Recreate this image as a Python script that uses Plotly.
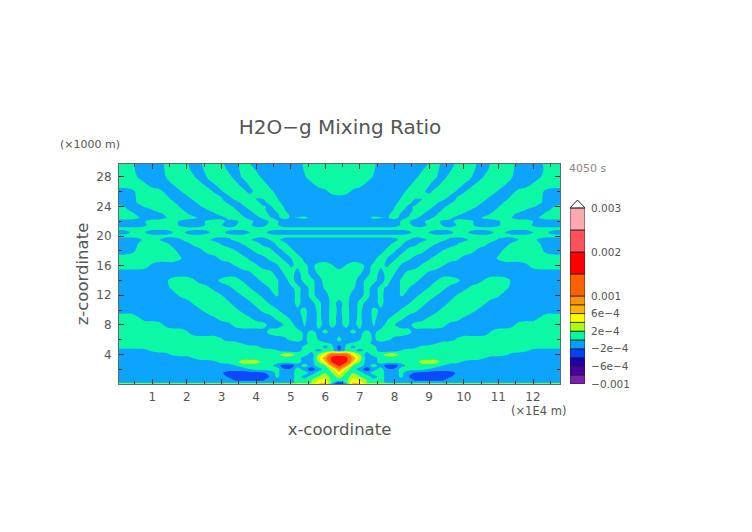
import numpy as np
import plotly.graph_objects as go

# x positions (x1E4 m) of the left half, the field is mirrored about x = 6.4
x_half = [0.0, 0.2, 0.4, 0.6, 0.8, 1.0, 1.2, 1.4, 1.6, 1.8, 2.0,
          2.2, 2.4, 2.6, 2.8, 3.0, 3.2, 3.4, 3.6, 3.8, 4.0, 4.2,
          4.4, 4.6, 4.8, 5.0, 5.2, 5.4, 5.6, 5.8, 6.0, 6.2, 6.4]

# z rows (x1000 m), bottom to top
z_rows = [0, 0.2, 0.5, 1, 1.5, 2, 2.5, 3, 3.5, 4, 4.5, 5, 5.5, 6, 7, 8, 9, 10,
          11, 12, 13, 14, 15, 16, 17, 18, 19, 19.5, 20, 20.5, 21, 21.5, 22,
          22.5, 23, 23.5, 24, 24.5, 25, 26, 27, 28, 29, 30]

# mixing ratio, in units of 1e-4, same order as z_rows
ratio_half = [
    [4,4,4,4,4,4,4,4,4,4,4, 4,4,4,4,4,4,4,4,4,4,4, 4,4,4,4,4,4,4,6,7,-1,-4],
    [-1,-1,-1,-1,-1,-1,-1,-1,-1,-1,-1, -1,-1,-1,-1,-1,-1,-1,-1,-1,-1,-1, -1,-1,-1,-1,1,1,2,5,6,1,-4],
    [-1,-1,-1,-1,-1,-1,-1,-1,-1,-1,-1, -1,-1,-1,-1,-1,-1,-2.2,-2.2,-2.2,-2.2,-2.2, -1,-1,-1,-1,1,1,2,4,5,1,1],
    [-1,-1,-1,-1,-1,-1,-1,-1,-1,-1,-1, -1,-1,-1,-1,-1.25,-2.25,-3,-3,-3,-3,-3, -1.9,.5,-1,-1,1,-1,1,2,3,1,3],
    [-1,-1,-1,-1,-1,-1,-1,-1,-1,-1,-1, -1,-1,-1,-1,-1.75,-2.75,-3,-3,-3,-3,-2.3, -1.3,.5,-1,-1,1,1,-1,1,2,2,5],
    [-1,-1,-1,-1,-1,-1,-1,-1,-1,-1,-1, -1,-1,-1,-1,-1,-1,-1,-1,-.1,.9,1, 1,1,-1.8,-1.8,1,-1,-3,-1,1,3,9],
    [-1,-1,-1,-1,-1,-1,-1,-1,-1,-1,-1, -1,-1,-1,-1,-1,-.95,.05,1,1,1,1, .8,-1,-3,-3,-1,1,-1,1,2,9,16],
    [-1,-1,-1,-1,-1,-1,-1,-1,-1,-1,-1, -1,-1,-1,-.3,.7,1,1,3,3,3,1, 1,1,1,1,1,-1,-1,2,6,16,19],
    [-1,-1,-1,-1,-1,-1,-1,-1,-1,-1,-.95, .05,1,1,1,1,1,1,1,1,1,1, 1,1,1,1,1,-1,-1,3,8,17,19],
    [-1,-1,-1,-1,-1,-1,-1,-.55,.45,1,1, 1,1,1,1,1,1,1,1,1,1,1, 1,1,3,3,1,1,-1,2,5,12,12],
    [-1,-1,-1,-1,-.7,.3,1,1,1,1,1, 1,1,1,1,1,1,1,1,1,1,1, 1,.2,-.8,-1,-.5,.5,.5,-.5,.5,.7,-2],
    [1,1,1,1,1,1,1,1,1,1,1, 1,1,1,1,1,1,1,1,1,.55,-.45, -1,-1,-1,-1,-1,.5,.8,.5,-.3,.5,-3],
    [1,1,1,1,1,1,1,1,1,1,1, 1,1,1,1,1,1,.9,-.1,-1,-1,-1, -1,-1,-1,-1,-.5,-.5,.5,.8,.3,-.3,-.5],
    [1,1,1,1,1,1,1,1,1,1,1, 1,1,1,1,.25,-.75,-1,-1,-1,-1,-1, -1,-1,-.65,.35,.6,-.3,.7,-.05,-1,-.65,.35],
    [1,1,1,1,1,1,1,1,1,1,.2, -.8,-1,-1,-1,-1,-1,-1,-1,-1,-1,-.55, .45,1,1,1,.6,-.3,.3,-.25,.2,-.3,-.5],
    [1,1,1,1,1,1,.6,-.4,-1,-1,-1, -1,-1,-1,-1,-1,-.5,.5,1,1,1,.55, -.45,-.95,.05,.65,-.8,.1,-.8,.3,-.3,.2,-.2],
    [1,1,1,.05,-1,-1,-1,-1,-1,-1,-1, -1,-1,-.95,-.05,.95,1,1,1,.1,-.9,-1, -.5,.5,.65,-.35,-.5,.3,-.7,.2,-.3,.25,-.2],
    [-1,-1,-1,-1,-1,-1,-1,-1,-1,-1,-1, -1,-.1,.9,1,1,1,.45,-.55,-1,-.55,.45, 1,.2,-.8,-1,-.2,.3,-.7,.3,-.5,.4,-.2],
    [-1,-1,-1,-1,-1,-1,-1,-1,-1,-1,-.7, .3,1,1,1,1,.25,-.75,-1,-.35,.65,.75, -.25,-1,-1,-.6,.4,-.6,-.2,.3,-.6,.4,-.3],
    [-1,-1,-1,-1,-1,-1,-1,-1,-.75,.25,1, 1,1,1,1,.05,-1,-.9,.1,1,.55,-.45, -.5,.2,-.8,-.65,.4,-.6,.4,-.4,-.4,.55,.5],
    [-1,-1,-1,-1,-1,-1,-1,-.55,.45,1,1, 1,1,.35,-.65,-1,-.5,.5,1,.1,-.9,-.9, .1,.2,-.8,-.3,.4,-.6,.5,-.6,.2,1,1],
    [-1,-1,-1,-1,-1,-1,-1,-.3,.7,1,1, .2,-.8,-1,-.55,.45,1,.9,-.1,-1,-.55,.45, 1,.2,-.8,.6,-.6,.4,.3,-.5,.5,1,1],
    [-1,-1,-1,-1,-1,-1,-1,-1,-1,-1,-1, -1,-1,-1,-1,-1,-1,-1,-1,-.35,.65,1, .5,-.5,.05,.4,-.35,.55,-.45,.15,1,1,1],
    [1,1,1,1,.6,-.4,-1,-1,-1,-1,-1, -1,-1,-1,-1,-1,-1,.05,1,1,.3,-.7, -1,-.2,.8,-.1,.15,.3,-.4,.6,1,.15,-.85],
    [1,1,1,1,1,1,1,1,1,.25,-.75, -1,-1,-1,-.55,.45,1,1,.75,-.25,-1,-.55, .45,.7,-.3,-.05,.6,-.4,-1,-1,-1,-1,-1],
    [-1,-1,-.5,.5,1,1,1,1,.5,-.5,-1, -1,-.4,.6,1,1,1,.1,-.9,-.6,.4,1, .5,-.5,.05,.5,-.5,-1,-1,-1,-1,-1,-1],
    [-1,-1,-1,.05,1,1,1,.3,-.7,-1,-.45, .55,1,1,.8,-.2,-1,-.9,.1,1,.55,-.45, -.75,.25,.4,-.6,-1,-1,-1,-1,-1,-1,-1],
    [-1,-1,-1,-.45,.55,1,.1,-.9,-1,-.25,.75, 1,1,.35,-.65,-1,-.5,.5,1,.35,-.65,-1, .05,.45,-.55,-1,-1,-1,-1,-1,-1,-1,-1],
    [.6,.6,.6,.6,.6,.6,.6,.6,.6,.6,.6, .6,.6,.6,.6,.6,.6,.6,.6,.6,.6,.6, .6,.6,.6,.6,.6,.6,.6,.6,.6,.6,.6],
    [-1,-.8,.2,.95,-.05,-1,-1,-1,-.05,.7,-.3, -1,-1,-.35,.65,.5,-.5,-1,-1,-.1,.9,.55, -.45,-1,-1,-1,-1,-1,-1,-1,-1,-1,-1],
    [.6,.6,.6,.6,.6,.6,.6,.6,.6,.6,.6, .6,.6,.6,.6,.6,.6,.6,.6,.6,.6,.6, .6,.6,.6,.6,.6,.6,.6,.6,.6,.6,.6],
    [-1,-1,-1,-1,-.2,.8,1,1,.75,-.25,-1, -1,-.6,.4,1,.05,-1,-.2,.8,.35,-.65,-.55, .45,.2,-.8,-1,-1,-1,-1,-1,-1,-1,-1],
    [-1,-1,-1,-.95,.05,1,1,1,.75,-.25,-1, -1,-.6,.4,1,.5,-.5,-.45,.55,.6,-.4,-.8, .2,.2,-.8,-1,-1,-1,-1,-1,-1,-1,-1],
    [1,1,1,.2,-.8,-1,-1,-.1,.9,1,1, .5,-.5,-1,-1,-.5,.5,1,.4,-.6,-.55,.45, .1,-.45,.55,-.1,.15,.45,-.45,-1,-1,-1,-1],
    [1,1,.5,-.5,-1,-1,-.6,.4,1,1,.2, -.8,-1,-1,-.3,.7,1,.8,-.2,-.85,.15,.75, -.25,-.2,.65,-.35,-1,-1,-1,-1,-1,-1,-1],
    [1,.6,-.4,-1,-1,-.15,.85,1,1,.5,-.5, -1,-1,-.1,.9,1,1,.2,-.8,-.1,.9,.4, -.6,.25,.2,-.8,-1,-1,-1,-1,-1,-1,-1],
    [1,-.05,-1,-.7,.3,1,1,1,.9,-.1,-1, -1,-.1,.9,1,1,.6,-.4,-.4,.6,1,.15, -.25,.75,-.05,-1,-1,-1,-1,-1,-1,-1,-1],
    [-1,-1,-.75,.25,1,1,1,1,.3,-.7,-1, -.4,.6,1,1,.75,-.25,-.7,.3,1,.55,-.45, .35,.55,-.45,-1,-1,-1,-1,-1,-1,-1,-1],
    [-1,-1,-.65,.35,1,1,1,.65,-.35,-1,-.7, .3,1,1,1,.1,-.7,.3,1,.95,-.05,-.05, .95,.2,-.8,-1,-1,-1,-1,-1,-1,-1,-1],
    [-1,-1,-.5,.5,1,1,.6,-.4,-1,-.25,.75, 1,1,.8,-.2,-.25,.75,1,.65,-.35,.3,1, .5,-.5,-1,-1,-1,-1,-1,-1,-.45,.55,1],
    [1,1,1,1,.2,-.8,-1,-.95,.05,1,1, 1,.4,-.6,-.05,.95,1,.45,-.55,.1,1,.55, -.45,-1,-1,-1,-1,-1,-.35,.65,1,1,1],
    [1,1,.85,-.15,-1,-1,-1,.05,1,1,1, .2,-.85,.15,1,1,.5,-.5,.1,1,.65,-.35, -1,-1,-1,-1,-1,-.2,.8,1,1,1,1],
    [1,1,.5,-.5,-1,-1,-.75,.25,1,1,.45, -.55,-.4,.6,1,.75,-.25,-.6,.4,.85,-.15,-1, -1,-1,-1,-1,-.85,.15,1,1,1,1,1],
    [1,1,.65,-.35,-1,-1,-.6,.4,1,1,.2, -.8,-.1,.9,1,.25,-.75,-.3,.7,-.1,-1,-1, -1,-1,-1,-1,-.7,.3,1,1,1,1,1],
]

# colour bar levels and the colour of each interval
levels = [-0.001, -0.0008, -0.0006, -0.0004, -0.0002, 0, 0.0002, 0.0004,
          0.0006, 0.0008, 0.001, 0.0015, 0.002, 0.0025, 0.003]
band_colors = ['#7a1fb0', '#4a00a0', '#2000a8', '#0040ff', '#00a0ff', '#00f8a0',
               '#a8ff10', '#ffff00', '#ffb000', '#ff9000', '#ff6000', '#ff0000',
               '#ff5060', '#ffa8b0']
cbar_ticks = [-0.001, -0.0006, -0.0002, 0.0002, 0.0006, 0.001, 0.002, 0.003]
cbar_labels = ['−0.001', '−6e−4', '−2e−4', '2e−4', '6e−4', '0.001', '0.002', '0.003']

x_ticks = [1, 2, 3, 4, 5, 6, 7, 8, 9, 10, 11, 12]
z_ticks = [4, 8, 12, 16, 20, 24, 28]

W, H = 752, 532
FONT = 'DejaVu Sans'
INK = '#555555'

half = np.array(ratio_half, dtype=float) * 1e-4
ratio = np.hstack([half, half[:, -2::-1]])
x_full = x_half + [12.8 - v for v in x_half[-2::-1]]

# stepped colour scale with the bar's levels
lo, hi = levels[0], levels[-1]
scale = []
for i, c in enumerate(band_colors):
    scale.append([(levels[i] - lo) / (hi - lo), c])
    scale.append([(levels[i + 1] - lo) / (hi - lo), c])

fig = go.Figure()

fig.add_trace(go.Contour(
    x=x_full,
    y=z_rows,
    z=ratio,
    zmin=lo,
    zmax=hi,
    autocontour=False,
    contours=dict(start=lo, end=hi, size=0.0001, coloring='fill'),
    colorscale=scale,
    line=dict(width=0, smoothing=1.0),
    opacity=0.95,
    showscale=False,
    hoverinfo='skip',
))

# colour bar drawn as stacked intervals
fig.add_trace(go.Bar(
    x=[0] * len(band_colors),
    y=[levels[i + 1] - levels[i] for i in range(len(band_colors))],
    base=levels[:-1],
    width=1,
    marker=dict(color=band_colors, line=dict(color='#222222', width=0.8)),
    xaxis='x2',
    yaxis='y2',
    showlegend=False,
    hoverinfo='skip',
))

axis_common = dict(ticks='inside', tickcolor='#333333', tickwidth=1, ticklen=5, automargin=False,
                   showline=True, linecolor='#666666', linewidth=1, mirror='ticks',
                   showgrid=False, zeroline=False, tickfont=dict(size=12, color=INK, family=FONT))

fig.update_layout(
    width=W,
    height=H,
    autosize=False,
    margin=dict(l=0, r=0, t=0, b=0),
    paper_bgcolor='white',
    plot_bgcolor='white',
    font=dict(family=FONT, color=INK),
    barmode='overlay',
    title=dict(text='H2O−g Mixing Ratio', x=340 / W, y=1 - 127 / H, xanchor='center', yanchor='middle',
               font=dict(size=20, color=INK, family=FONT)),
    xaxis=dict(domain=[119 / W, 560 / W], range=[0.04, 12.78], tickvals=x_ticks,
               ticklabelstandoff=2,
               minor=dict(dtick=0.5, ticks='inside', ticklen=3, tickcolor='#333333'),
               title=dict(text='x-coordinate', font=dict(size=16.5, color=INK), standoff=20),
               **axis_common),
    yaxis=dict(domain=[1 - 384 / H, 1 - 164 / H], range=[0, 29.75], tickvals=z_ticks,
               ticklabelstandoff=4,
               minor=dict(dtick=2, ticks='inside', ticklen=3, tickcolor='#333333'),
               title=dict(text='z-coordinate', font=dict(size=16.5, color=INK), standoff=3),
               **axis_common),
    xaxis2=dict(domain=[570 / W, 585 / W], range=[-0.5, 0.5], visible=False, anchor='y2', automargin=False),
    yaxis2=dict(domain=[1 - 384 / H, 1 - 200 / H], range=[lo, 0.00318], anchor='x2', side='right',
                tickvals=cbar_ticks, ticktext=cbar_labels, ticks='outside', ticklen=3, automargin=False,
                tickcolor='rgba(0,0,0,0)', showgrid=False, zeroline=False,
                showline=False, tickfont=dict(size=10.5, color=INK, family=FONT)),
    # arrow on top of the colour bar
    shapes=[dict(type='path', xref='x2', yref='y2',
                 path='M -0.5 0.003 L 0 0.00318 L 0.5 0.003 Z',
                 fillcolor='white', line=dict(color='#222222', width=1))],
    annotations=[
        dict(text='(×1000 m)', x=58 / W, y=1 - 144 / H, xref='paper', yref='paper', xanchor='left',
             yanchor='middle', showarrow=False, font=dict(size=11, color=INK)),
        dict(text='(×1E4 m)', x=509 / W, y=1 - 411 / H, xref='paper', yref='paper', xanchor='left',
             yanchor='middle', showarrow=False, font=dict(size=11.5, color=INK)),
        dict(text='4050 s', x=567 / W, y=1 - 168 / H, xref='paper', yref='paper', xanchor='left',
             yanchor='middle', showarrow=False, font=dict(size=11, color='#888888')),
    ],
)

# the page's default body margin would shift the figure
fig.write_html("out.html", config=dict(displayModeBar=False),
               post_script="document.body.style.margin='0';")
